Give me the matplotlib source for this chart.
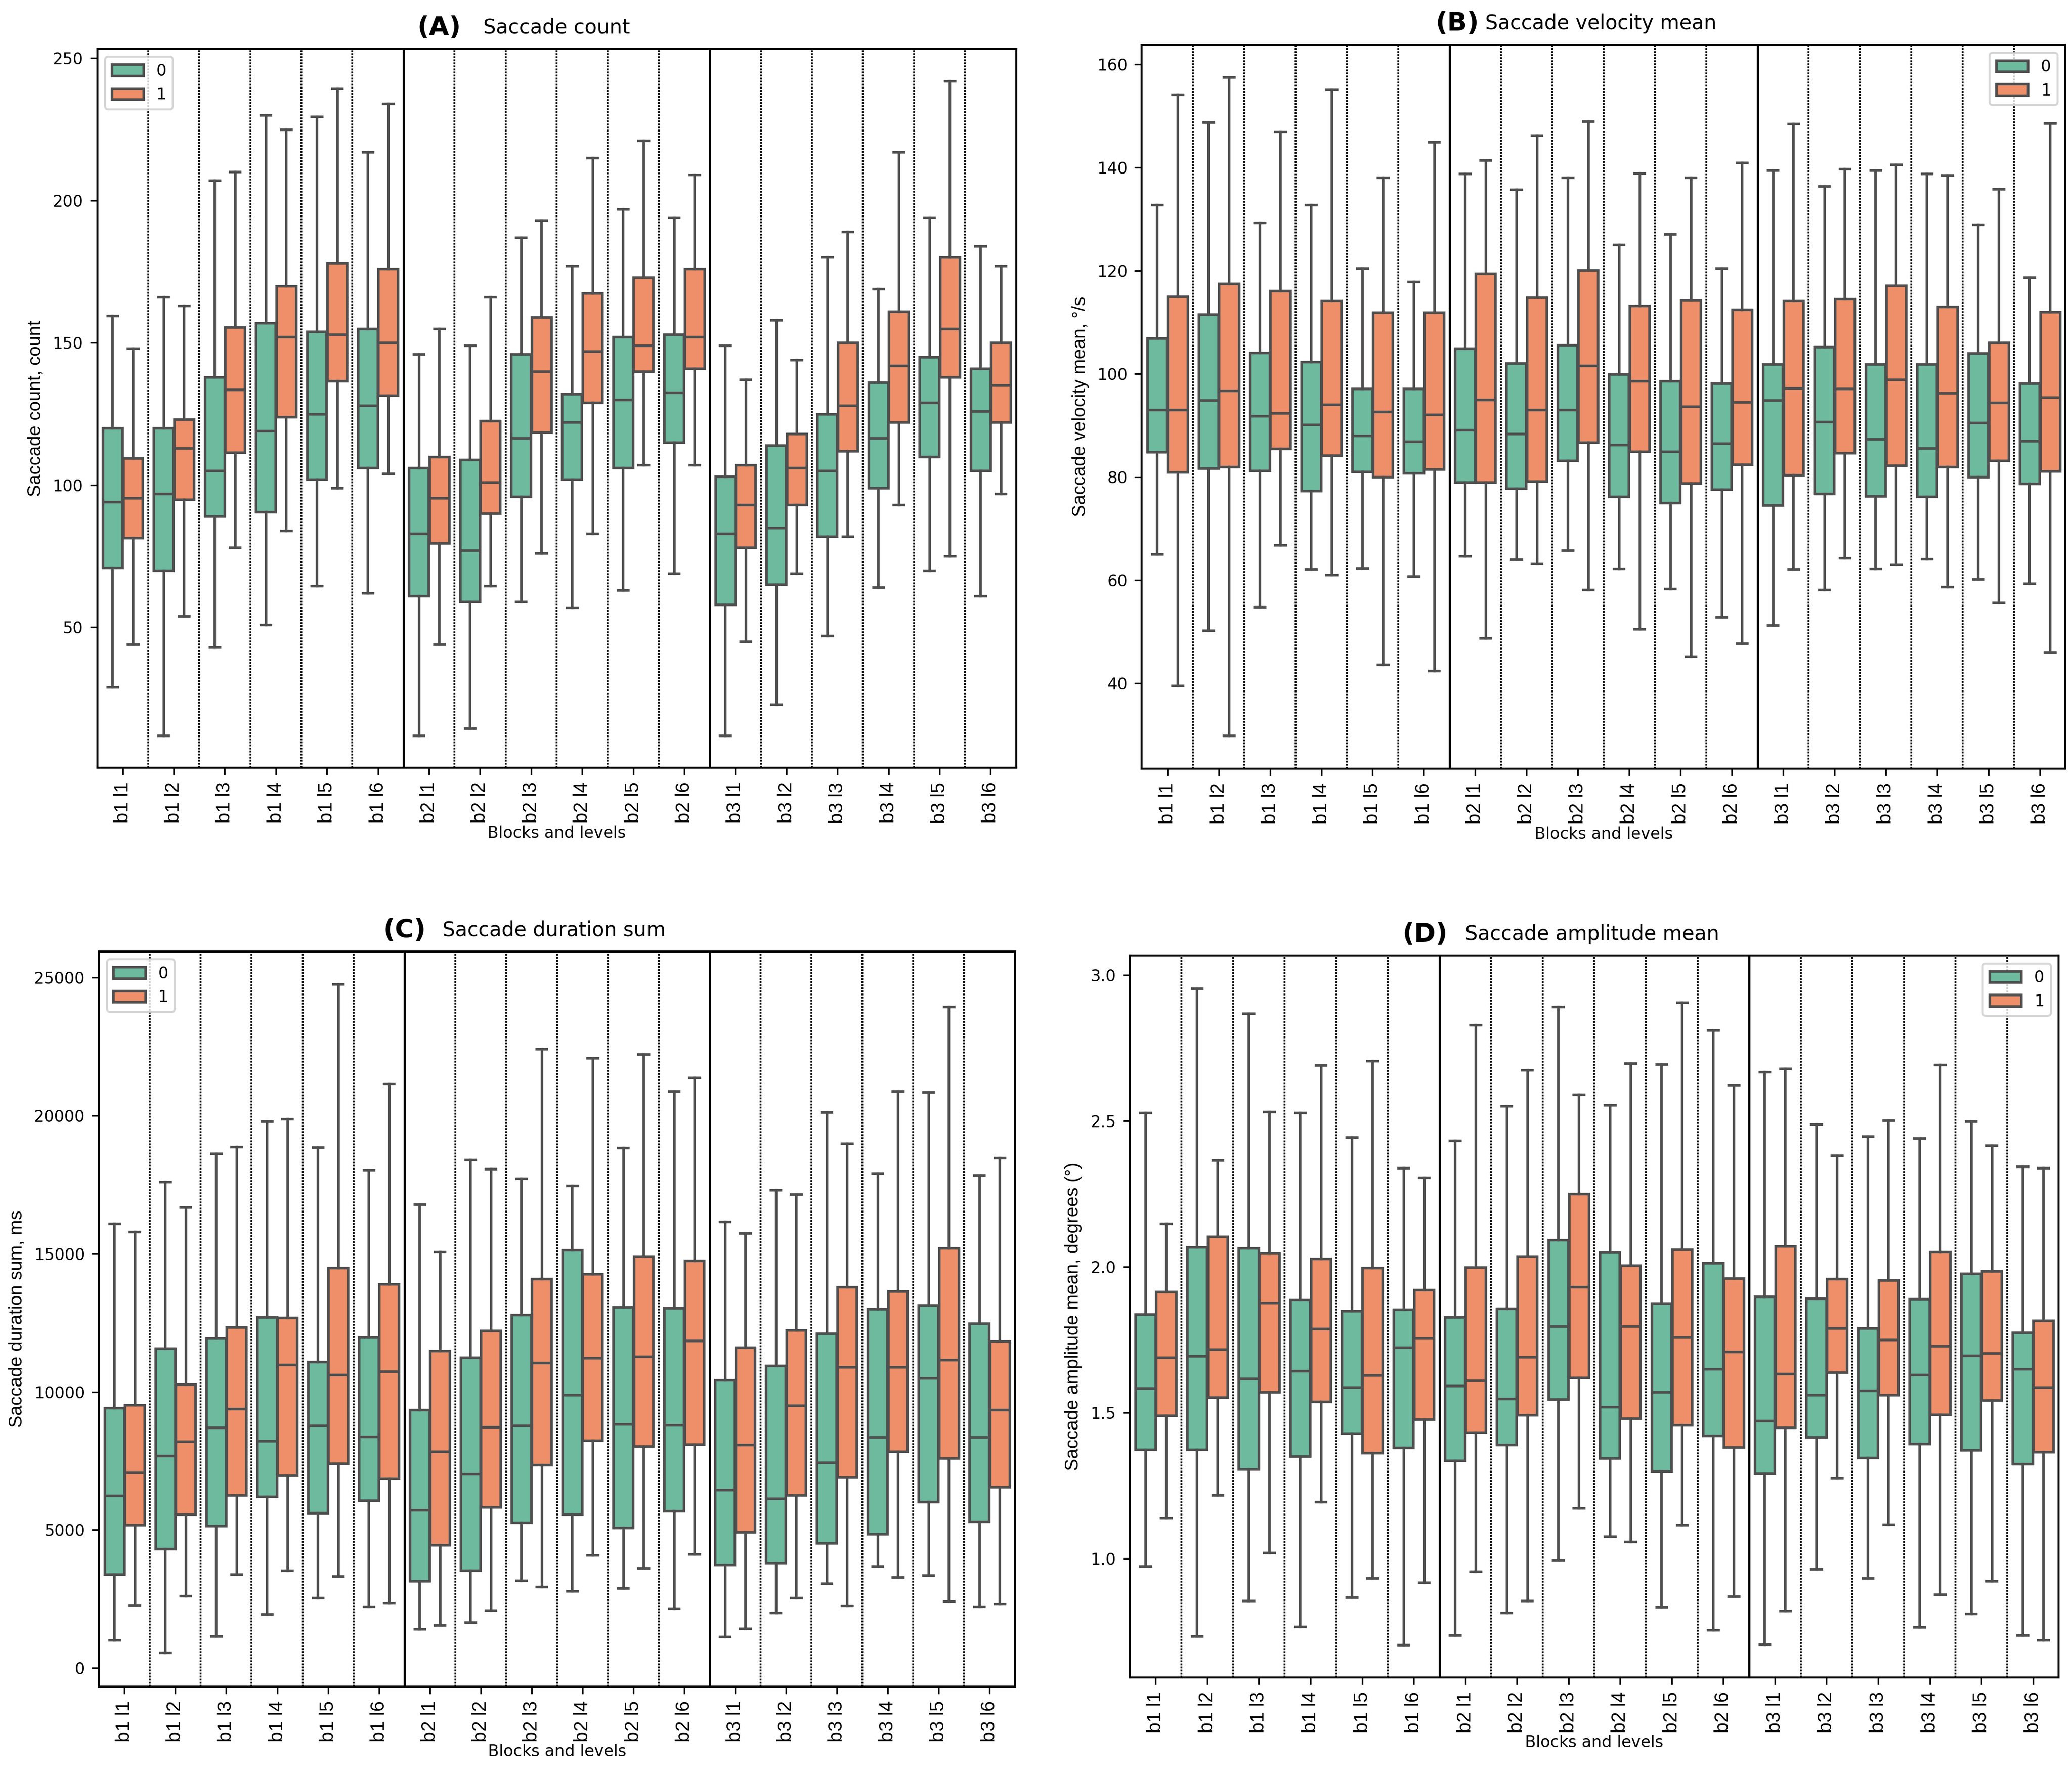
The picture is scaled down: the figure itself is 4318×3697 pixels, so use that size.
import matplotlib
matplotlib.use("Agg")
import matplotlib.pyplot as plt
from matplotlib.patches import Patch
import numpy as np

levels = ['b1 l1', 'b1 l2', 'b1 l3', 'b1 l4', 'b1 l5', 'b1 l6',
          'b2 l1', 'b2 l2', 'b2 l3', 'b2 l4', 'b2 l5', 'b2 l6',
          'b3 l1', 'b3 l2', 'b3 l3', 'b3 l4', 'b3 l5', 'b3 l6']
hue_names = ['0', '1']

# each row: whisker low, q1, median, q3, whisker high
count_0 = [(29, 71, 94, 120, 159.5), (12, 70, 97, 120, 166), (43, 89, 105, 138, 207),
           (51, 90.5, 119, 157, 230), (64.5, 102, 125, 154, 229.5), (62, 106, 128, 155, 217),
           (12, 61, 83, 106, 146), (14.5, 59, 77, 109, 149), (59, 96, 116.5, 146, 187),
           (57, 102, 122, 132, 177), (63, 106, 130, 152, 197), (69, 115, 132.5, 153, 194),
           (12, 58, 83, 103, 149), (23, 65, 85, 114, 158), (47, 82, 105, 125, 180),
           (64, 99, 116.5, 136, 169), (70, 110, 129, 145, 194), (61, 105, 126, 141, 184)]
count_1 = [(44, 81.5, 95.5, 109.5, 148), (54, 95, 113, 123, 163), (78, 111.5, 133.5, 155.5, 210),
           (84, 124, 152, 170, 225), (99, 136.5, 153, 178, 239.5), (104, 131.5, 150, 176, 234),
           (44, 79.5, 95.5, 110, 155), (64.5, 90, 101, 122.5, 166), (76, 118.5, 140, 159, 193),
           (83, 129, 147, 167.5, 215), (107, 140, 149, 173, 221), (107, 141, 152, 176, 209),
           (45, 78, 93, 107, 137), (69, 93, 106, 118, 144), (82, 112, 128, 150, 189),
           (93, 122, 142, 161, 217), (75, 138, 155, 180, 242), (97, 122, 135, 150, 177)]

velocity_0 = [(65.0, 84.8, 93.0, 106.9, 132.7), (50.2, 81.7, 94.9, 111.5, 148.7),
              (54.8, 81.2, 91.8, 104.1, 129.3), (62.1, 77.3, 90.1, 102.3, 132.7),
              (62.3, 81.0, 88.0, 97.1, 120.5), (60.7, 80.7, 86.9, 97.1, 117.9),
              (64.6, 79.0, 89.1, 104.9, 138.8), (64.0, 77.8, 88.4, 102.0, 135.7),
              (65.8, 83.2, 93.0, 105.6, 138.0), (62.2, 76.2, 86.2, 99.9, 125.0),
              (58.3, 75.0, 84.9, 98.6, 127.1), (52.8, 77.6, 86.5, 98.1, 120.5),
              (51.2, 74.5, 94.9, 101.9, 139.4), (58.1, 76.7, 90.7, 105.2, 136.4),
              (62.2, 76.3, 87.3, 101.9, 139.4), (64.1, 76.2, 85.6, 101.9, 138.8),
              (60.2, 80.0, 90.5, 104.0, 128.9), (59.3, 78.7, 87.0, 98.1, 118.7)]
velocity_1 = [(39.5, 80.9, 93.0, 115.0, 154.1), (29.8, 81.9, 96.7, 117.5, 157.5),
              (66.8, 85.5, 92.4, 116.1, 147.0), (61.0, 84.2, 94.0, 114.1, 155.2),
              (43.6, 80.0, 92.6, 111.9, 138.0), (42.4, 81.5, 92.1, 111.9, 144.9),
              (48.7, 79.0, 95.0, 119.4, 141.4), (63.2, 79.2, 93.0, 114.8, 146.2),
              (58.1, 86.7, 101.6, 120.1, 148.9), (50.5, 84.9, 98.6, 113.2, 138.9),
              (45.2, 78.8, 93.7, 114.2, 138.0), (47.7, 82.4, 94.5, 112.5, 140.9),
              (62.1, 80.4, 97.2, 114.1, 148.5), (64.3, 84.6, 97.1, 114.5, 139.7),
              (63.1, 82.2, 98.9, 117.1, 140.6), (58.7, 81.9, 96.3, 113.0, 138.5),
              (55.6, 83.2, 94.4, 106.0, 135.8), (46.0, 81.1, 95.4, 112.0, 148.6)]

duration_0 = [(1010, 3380, 6230, 9410, 16100), (560, 4310, 7680, 11580, 17610),
              (1150, 5140, 8700, 11930, 18630), (1950, 6200, 8220, 12710, 19800),
              (2540, 5620, 8780, 11080, 18860), (2220, 6060, 8380, 11970, 18040),
              (1410, 3140, 5720, 9350, 16780), (1650, 3530, 7030, 11240, 18410),
              (3160, 5260, 8780, 12790, 17730), (2780, 5560, 9890, 15130, 17470),
              (2880, 5080, 8820, 13070, 18840), (2160, 5680, 8800, 13030, 20890),
              (1130, 3730, 6450, 10420, 16160), (1990, 3810, 6140, 10940, 17310),
              (3060, 4510, 7430, 12110, 20130), (3690, 4850, 8360, 12990, 17910),
              (3360, 6020, 10500, 13130, 20850), (2220, 5300, 8360, 12470, 17850)]
duration_1 = [(2280, 5180, 7090, 9530, 15790), (2600, 5560, 8200, 10270, 16680),
              (3380, 6250, 9390, 12330, 18880), (3530, 6990, 10980, 12690, 19880),
              (3320, 7410, 10620, 14500, 24760), (2360, 6870, 10740, 13900, 21170),
              (1550, 4450, 7840, 11480, 15070), (2080, 5820, 8720, 12210, 18070),
              (2940, 7350, 11060, 14100, 22420), (4090, 8240, 11220, 14260, 22080),
              (3610, 8020, 11280, 14910, 22220), (4110, 8100, 11850, 14750, 21370),
              (1430, 4920, 8080, 11600, 15750), (2540, 6250, 9510, 12230, 17160),
              (2260, 6910, 10900, 13800, 19000), (3280, 7840, 10900, 13640, 20890),
              (2420, 7590, 11160, 15210, 23950), (2320, 6550, 9350, 11830, 18470)]

amplitude_0 = [(0.973, 1.373, 1.583, 1.836, 2.528), (0.733, 1.373, 1.693, 2.067, 2.954),
               (0.855, 1.305, 1.617, 2.063, 2.867), (0.766, 1.350, 1.642, 1.888, 2.528),
               (0.867, 1.429, 1.587, 1.848, 2.444), (0.703, 1.379, 1.724, 1.853, 2.339),
               (0.737, 1.335, 1.592, 1.827, 2.432), (0.813, 1.389, 1.547, 1.857, 2.550),
               (0.994, 1.545, 1.796, 2.091, 2.890), (1.076, 1.343, 1.520, 2.048, 2.554),
               (0.834, 1.299, 1.571, 1.874, 2.693), (0.754, 1.421, 1.650, 2.013, 2.811),
               (0.705, 1.293, 1.472, 1.897, 2.667), (0.964, 1.415, 1.560, 1.891, 2.488),
               (0.933, 1.345, 1.575, 1.789, 2.446), (0.764, 1.392, 1.630, 1.890, 2.440),
               (0.810, 1.371, 1.695, 1.977, 2.497), (0.737, 1.324, 1.650, 1.775, 2.343)]
amplitude_1 = [(1.139, 1.490, 1.688, 1.914, 2.147), (1.217, 1.552, 1.716, 2.103, 2.364),
               (1.019, 1.571, 1.876, 2.046, 2.531), (1.194, 1.537, 1.787, 2.027, 2.690),
               (0.933, 1.362, 1.627, 1.996, 2.705), (0.918, 1.476, 1.754, 1.920, 2.305),
               (0.956, 1.432, 1.610, 1.998, 2.829), (0.855, 1.491, 1.690, 2.036, 2.674),
               (1.173, 1.619, 1.930, 2.250, 2.590), (1.057, 1.480, 1.796, 2.004, 2.697),
               (1.114, 1.457, 1.758, 2.059, 2.905), (0.870, 1.381, 1.709, 1.960, 2.623),
               (0.821, 1.448, 1.632, 2.070, 2.678), (1.276, 1.638, 1.789, 1.958, 2.381),
               (1.116, 1.560, 1.750, 1.954, 2.501), (0.876, 1.493, 1.728, 2.050, 2.691),
               (0.922, 1.543, 1.703, 1.985, 2.415), (0.720, 1.364, 1.587, 1.815, 2.339)]

colors = ['#6dba9f', '#ee8f69']
line_gray = '#4f4f4f'
narrow = ['Liberation Sans', 'DejaVu Sans']

plt.rcParams['font.family'] = ['DejaVu Sans']


def to_stats(rows):
    return [dict(whislo=r[0], q1=r[1], med=r[2], q3=r[3], whishi=r[4], fliers=[])
            for r in rows]


def draw_panel(ax, data0, data1, ylabel, yticks, ylim, letter, title,
               letter_x, title_x, legend_loc):
    x = np.arange(len(levels))
    for k, (rows, col) in enumerate(zip([data0, data1], colors)):
        pos = x + (-0.2 if k == 0 else 0.2)
        ax.bxp(to_stats(rows), positions=pos, widths=0.385, capwidths=0.2,
               showfliers=False, patch_artist=True, manage_ticks=False,
               boxprops=dict(facecolor=col, edgecolor=line_gray, linewidth=1.3),
               medianprops=dict(color=line_gray, linewidth=1.3),
               whiskerprops=dict(color=line_gray, linewidth=1.3),
               capprops=dict(color=line_gray, linewidth=1.3))

    # separators: dotted between levels, solid between blocks
    for b in range(len(levels) - 1):
        if b in (5, 11):
            ax.axvline(b + 0.5, color='black', linewidth=1.1, zorder=0.5)
        else:
            ax.axvline(b + 0.5, color='black', linewidth=0.9,
                       linestyle=(0, (1, 0.7)), zorder=0.5)

    ax.set_xlim(-0.5, len(levels) - 0.5)
    ax.set_ylim(*ylim)
    ax.set_yticks(yticks)
    ax.set_xticks(x)
    ax.set_xticklabels(levels, rotation=90, fontsize=9.5, family=narrow)
    ax.tick_params(axis='y', labelsize=8)
    ax.set_ylabel(ylabel, fontsize=9.2, family=narrow)
    ax.set_xlabel('Blocks and levels', fontsize=8, labelpad=1)
    for sp in ax.spines.values():
        sp.set_color('black')
        sp.set_linewidth(1.0)

    ax.annotate(letter, xy=(letter_x, 1.0), xycoords='axes fraction',
                xytext=(0, 10.5), textcoords='offset points',
                ha='right', va='center', fontsize=13, fontweight='bold')
    ax.annotate(title, xy=(title_x, 1.0), xycoords='axes fraction',
                xytext=(0, 10.5), textcoords='offset points',
                ha='left', va='center', fontsize=10)

    handles = [Patch(facecolor=c, edgecolor=line_gray, linewidth=1.3) for c in colors]
    ax.legend(handles, hue_names, loc=legend_loc, fontsize=8)


fig = plt.figure(figsize=(4318 / 300, 3697 / 300), dpi=300)
ax_a = fig.add_axes([0.0469, 0.5671, 0.4435, 0.4054])
ax_b = fig.add_axes([0.5510, 0.5666, 0.4458, 0.4082])
ax_c = fig.add_axes([0.0478, 0.0492, 0.4420, 0.4145])
ax_d = fig.add_axes([0.5453, 0.0544, 0.4483, 0.4071])

draw_panel(ax_a, count_0, count_1, 'Saccade count, count',
           [50, 100, 150, 200, 250], (0.6, 253.3), '(A)', 'Saccade count',
           0.396, 0.420, 'upper left')
draw_panel(ax_b, velocity_0, velocity_1, 'Saccade velocity mean, °/s',
           [40, 60, 80, 100, 120, 140, 160], (23.4, 163.8), '(B)', 'Saccade velocity mean',
           0.365, 0.372, 'upper right')
draw_panel(ax_c, duration_0, duration_1, 'Saccade duration sum, ms',
           [0, 5000, 10000, 15000, 20000, 25000], (-680, 25950), '(C)', 'Saccade duration sum',
           0.357, 0.375, 'upper left')
draw_panel(ax_d, amplitude_0, amplitude_1, 'Saccade amplitude mean, degrees (°)',
           [1.0, 1.5, 2.0, 2.5, 3.0], (0.592, 3.067), '(D)', 'Saccade amplitude mean',
           0.342, 0.361, 'upper right')

fig.savefig('out.png', dpi=300)
